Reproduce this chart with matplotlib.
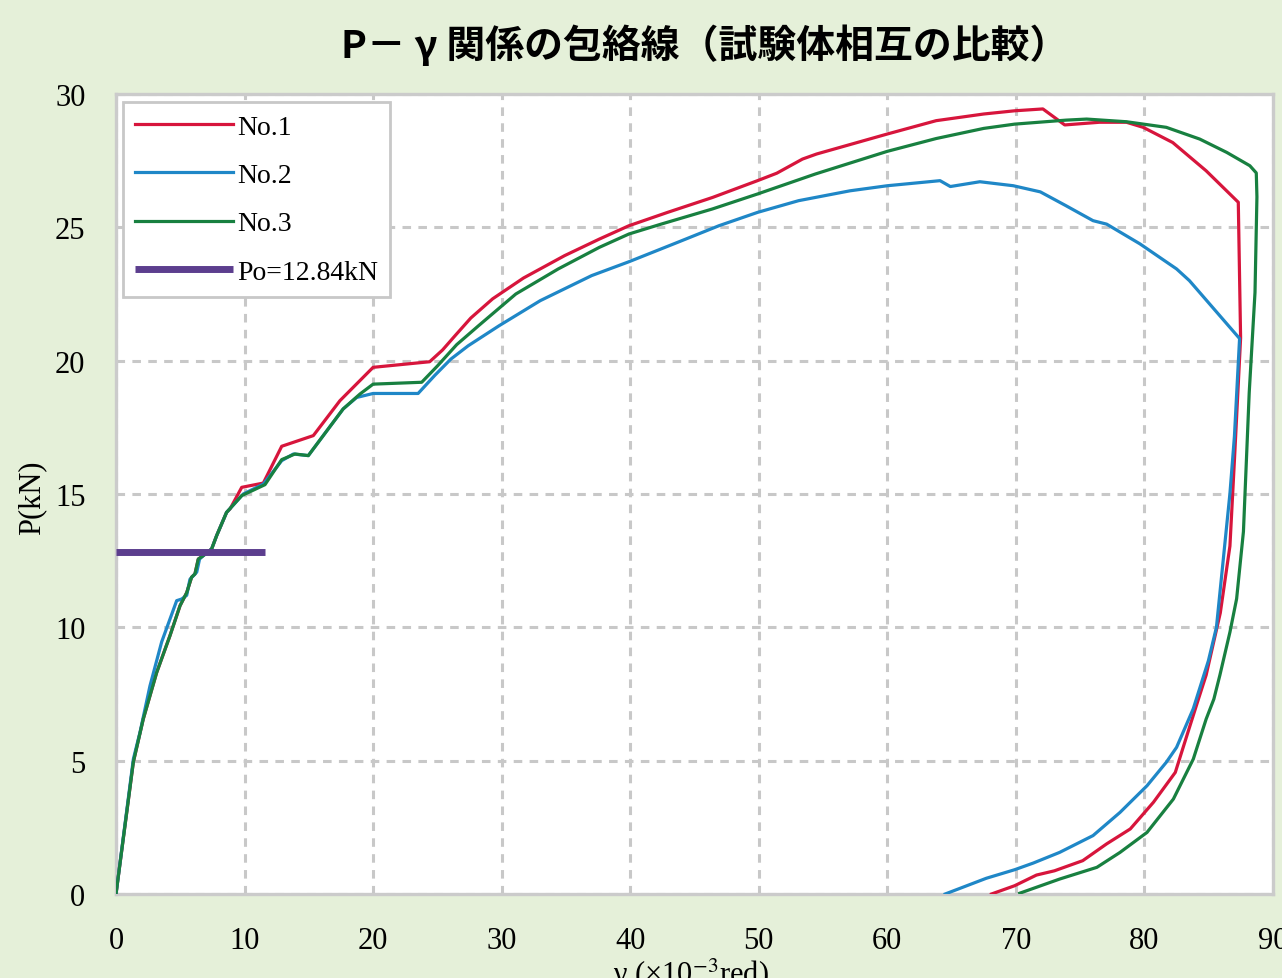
import matplotlib
matplotlib.use("Agg")
import matplotlib.pyplot as plt

plt.rcParams['font.family'] = ['Liberation Serif', 'DejaVu Serif']
plt.rcParams['mathtext.fontset'] = 'stix'

# ---------------- data ----------------
no1_x = [0, 1.35, 2.12, 3.16, 4.2, 4.98, 5.5, 5.88, 6.14, 6.4, 6.79, 7.44, 7.83, 8.6, 8.87,
         9.78, 11.46, 12.89, 15.35, 17.42, 20.0, 24.4, 25.4, 26.4, 27.6, 29.3, 31.7, 34.9, 37.6,
         39.9, 42.9, 46.4, 49.9, 51.4, 53.4, 54.5, 60.0, 63.8, 67.5, 69.9, 72.1, 73.8, 76.5,
         78.6, 79.9, 82.2, 84.8, 87.3, 87.48, 87.0, 86.65, 85.9, 84.8, 84.2, 83.3, 82.4, 80.7,
         78.9, 77.06, 75.2, 73.0, 71.6, 69.9, 68.1]
no1_y = [0, 4.95, 6.56, 8.3, 9.69, 10.81, 11.3, 11.88, 12.0, 12.56, 12.69, 12.94, 13.44, 14.31, 14.44,
         15.25, 15.41, 16.79, 17.19, 18.5, 19.75, 19.96, 20.4, 20.95, 21.6, 22.32, 23.1, 23.94, 24.56,
         25.06, 25.56, 26.12, 26.75, 27.03, 27.56, 27.75, 28.5, 29.0, 29.25, 29.37, 29.44, 28.84, 28.94,
         28.94, 28.75, 28.18, 27.12, 25.94, 20.85, 16.27, 13.05, 10.54, 8.21, 7.31, 5.94, 4.56, 3.44,
         2.44, 1.88, 1.25, 0.87, 0.71, 0.31, 0.0]

no2_x = [0, 1.35, 1.87, 2.64, 3.55, 4.72, 5.1, 5.5, 5.75, 6.28, 6.5, 6.79, 7.44, 7.83, 8.6, 9.9,
         11.46, 12.89, 13.8, 14.96, 17.67, 18.72, 20.0, 23.5, 24.8, 26.05, 27.4, 29.8, 33.0, 37.0, 39.9,
         43.7, 46.9, 49.9, 53.1, 57.1, 60.0, 64.1, 64.9, 67.2, 69.8, 71.9, 73.9, 76.0, 77.06, 79.65,
         82.5, 83.5, 87.4, 87.0, 86.65, 85.6, 84.97, 83.8, 82.5, 81.7, 80.2, 78.1, 76.0, 73.4, 71.35,
         69.9, 67.7, 64.5]
no2_y = [0, 5.06, 6.07, 7.8, 9.45, 11.0, 11.06, 11.2, 11.8, 12.07, 12.56, 12.69, 12.94, 13.44, 14.31, 15.0,
         15.37, 16.25, 16.5, 16.44, 18.19, 18.62, 18.77, 18.77, 19.45, 20.06, 20.56, 21.31, 22.25, 23.19, 23.71,
         24.44, 25.06, 25.56, 26.0, 26.37, 26.56, 26.75, 26.53, 26.71, 26.56, 26.33, 25.81, 25.25, 25.12, 24.38,
         23.44, 23.0, 20.83, 17.17, 15.02, 10.0, 8.74, 6.95, 5.5, 4.94, 4.06, 3.06, 2.19, 1.56, 1.16,
         0.91, 0.59, 0.0]

no3_x = [0, 1.35, 2.12, 3.16, 4.2, 4.98, 5.5, 5.88, 6.14, 6.4, 6.79, 7.44, 7.83, 8.6, 9.78,
         11.59, 12.89, 13.92, 14.96, 17.67, 18.98, 20.0, 23.78, 25.0, 26.5, 28.2, 31.1, 34.4, 37.6, 39.9,
         42.4, 46.4, 49.9, 54.4, 60.0, 63.8, 67.5, 69.9, 73.9, 75.5, 78.6, 81.7, 84.3, 86.4, 88.2,
         88.7, 88.75, 88.6, 88.15, 87.7, 87.17, 86.65, 85.87, 85.4, 84.8, 83.8, 82.25, 80.2, 78.1,
         76.3, 73.4, 70.3]
no3_y = [0, 4.95, 6.56, 8.3, 9.69, 10.81, 11.3, 11.88, 12.0, 12.56, 12.69, 12.94, 13.44, 14.31, 14.94,
         15.35, 16.29, 16.5, 16.44, 18.19, 18.75, 19.12, 19.19, 19.8, 20.6, 21.31, 22.5, 23.44, 24.25, 24.75,
         25.12, 25.69, 26.25, 27.0, 27.85, 28.33, 28.71, 28.87, 29.02, 29.06, 28.96, 28.75, 28.31, 27.81, 27.31,
         27.04, 26.14, 22.56, 18.8, 13.59, 11.07, 9.82, 8.21, 7.31, 6.56, 5.06, 3.56, 2.31, 1.56,
         1.0, 0.56, 0.03]

po_x = [0, 11.6]
po_y = [12.84, 12.84]

series_labels = ["No.1", "No.2", "No.3", "Po=12.84kN"]
x_ticks = [0, 10, 20, 30, 40, 50, 60, 70, 80, 90]
y_ticks = [0, 5, 10, 15, 20, 25, 30]

title = "P－ γ 関係の包絡線（試験体相互の比較）"
xlabel = r"γ (×10$^{-3}$red)"
ylabel = "P(kN)"

# ---------------- styles ----------------
bg = "#e5f0d9"
c1, c2, c3, cpo = "#d7153c", "#1f87c7", "#188040", "#5c3e8e"
gridc = "#c8c8c8"

W, H = 1282, 979
fig = plt.figure(figsize=(W / 100, H / 100), dpi=100, facecolor=bg)
L, R, B, T = 116, 1273, 895, 95
ax = fig.add_axes([L / W, 1 - B / H, (R - L) / W, (B - T) / H])
ax.set_facecolor("white")

lw = 2.3
ax.plot(no1_x, no1_y, color=c1, lw=lw, label=series_labels[0], zorder=3)
ax.plot(no2_x, no2_y, color=c2, lw=lw, label=series_labels[1], zorder=3)
ax.plot(no3_x, no3_y, color=c3, lw=lw, label=series_labels[2], zorder=3)
ax.plot(po_x, po_y, color=cpo, lw=5, label=series_labels[3], zorder=4, solid_capstyle='butt')

ax.set_xlim(0, 90)
ax.set_ylim(0, 30)
ax.set_xticks(x_ticks)
ax.set_yticks(y_ticks)
ax.tick_params(axis='both', length=0, labelsize=22)
ax.tick_params(axis='x', pad=23)
ax.tick_params(axis='y', pad=22)

ax.grid(True, color=gridc, lw=2.2, linestyle=(0, (2.8, 2.4)), zorder=1)
for s in ax.spines.values():
    s.set_color("#cbcbcb")
    s.set_linewidth(2.4)

leg = ax.legend(loc='upper left', bbox_to_anchor=(0.006, 0.99), borderaxespad=0,
                fontsize=20, frameon=True, fancybox=False, framealpha=1,
                edgecolor="#c8c8c8", handlelength=3.5, handletextpad=0.15,
                labelspacing=0.82, borderpad=0.45)
leg.get_frame().set_linewidth(2)

fig.text(705 / W, 1 - 45 / H, title, ha='center', va='center', fontsize=28,
         fontweight='bold', family=['Noto Sans CJK JP', 'DejaVu Sans'])
fig.text(691 / W, 1 - 957 / H, xlabel, ha='center', va='top', fontsize=22)
fig.text(32 / W, 1 - 498 / H, ylabel, ha='center', va='center', fontsize=22, rotation=90)

fig.savefig("out.png", dpi=100, facecolor=bg)
